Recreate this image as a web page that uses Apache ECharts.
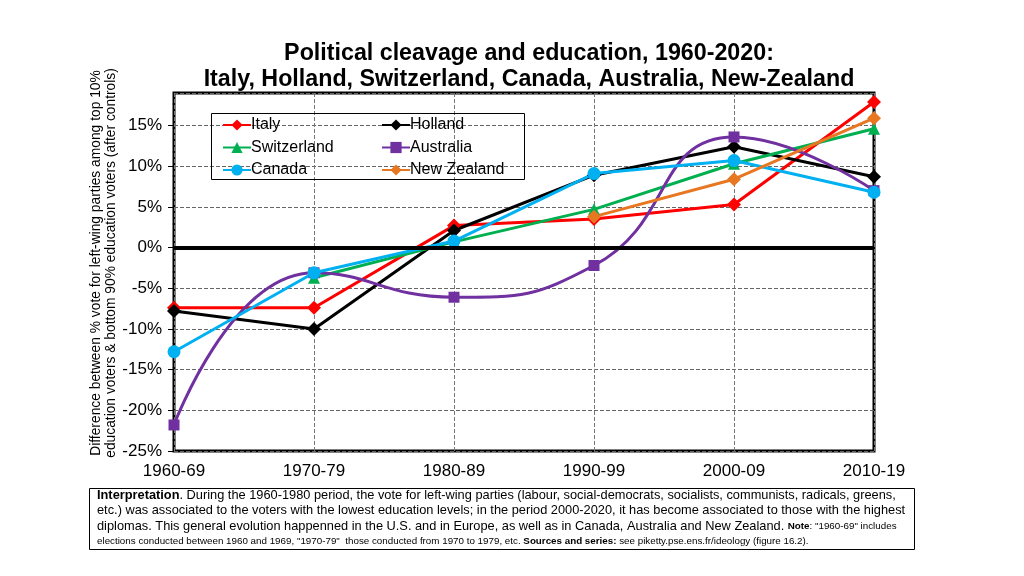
<!DOCTYPE html>
<html><head><meta charset="utf-8">
<script src="https://cdn.jsdelivr.net/npm/echarts@6/dist/echarts.min.js"></script>
<style>html,body{margin:0;padding:0;background:#fff}#c{width:1024px;height:576px}</style>
</head><body><div id="c"></div>
<script>
var categories = ['1960-69','1970-79','1980-89','1990-99','2000-09','2010-19'];
var italy       = [-7.4, -7.4, 2.7, 3.5, 5.3, 17.9];
var holland     = [-7.8, -10.0, 2.1, 8.9, 12.4, 8.7];
var switzerland = [null, -3.7, 0.7, 4.7, 10.3, 14.6];
var australia   = [-21.8, -3.1, -6.1, -2.2, 13.6, 7.0];
var canada      = [-12.8, -3.1, 0.8, 9.1, 10.7, 6.8];
var newZealand  = [null, null, null, 3.8, 8.4, 15.9];
var yTicks = [-25, -20, -15, -10, -5, 0, 5, 10, 15];

var FONT = 'Liberation Sans, Arial, sans-serif';
var chart = echarts.init(document.getElementById('c'), null, {renderer:'canvas'});

function mk(name, data, color, symbol, size, smooth) {
  return {
    name: name, type: 'line', data: data, smooth: smooth || false,
    symbol: symbol, symbolSize: size, showSymbol: true,
    lineStyle: {color: color, width: 3}, itemStyle: {color: color},
    connectNulls: false, z: 3
  };
}

var series = [
  mk('Italy', italy, '#FF0000', 'diamond', 14),
  mk('Holland', holland, '#000000', 'diamond', 14),
  mk('Switzerland', switzerland, '#00B050', 'triangle', 12),
  mk('Australia', australia, '#7030A0', 'rect', 11, 0.5),
  mk('Canada', canada, '#00B0F0', 'circle', 13),
  mk('New Zealand', newZealand, '#E87722', 'diamond', 14)
];
series[0].markLine = {
  silent: true, symbol: 'none', label: {show: false},
  lineStyle: {color: '#000', width: 4, type: 'solid'},
  data: [{yAxis: 0}]
};

var NF = 'Liberation Sans Narrow, Arial Narrow, ' + FONT;
var legendText = {fontSize: 16, color: '#000', fontFamily: FONT, padding: [0,0,0,-5]};

chart.setOption({
  animation: false,
  backgroundColor: '#fff',
  textStyle: {fontFamily: FONT},
  title: {
    text: 'Political cleavage and education, 1960-2020:\nItaly, Holland, Switzerland, Canada, Australia, New-Zealand',
    left: 524, top: 36, textAlign: 'center',
    textStyle: {fontSize: 23.25, fontWeight: 'bold', color: '#000', lineHeight: 26, fontFamily: FONT}
  },
  legend: [
    {orient: 'vertical', left: 217, top: 112, itemGap: 6.5, itemWidth: 28, itemHeight: 14,
     data: ['Italy', 'Switzerland', 'Canada'], textStyle: legendText},
    {orient: 'vertical', left: 376, top: 112, itemGap: 6.5, itemWidth: 28, itemHeight: 14,
     data: ['Holland', 'Australia', 'New Zealand'], textStyle: legendText}
  ],
  grid: {left: 174, right: 150, top: 93, bottom: 125, show: true, borderColor: '#000', borderWidth: 3, containLabel: false},
  xAxis: {
    type: 'category', data: categories, boundaryGap: false,
    axisLine: {show: false}, axisTick: {show: false},
    axisLabel: {fontSize: 17, color: '#000', margin: 12, fontFamily: FONT},
    splitLine: {show: true, lineStyle: {color: '#777', type: [4, 2], width: 1}}
  },
  yAxis: {
    type: 'value', min: -25, max: 19, interval: 5,
    axisLine: {show: false},
    axisTick: {show: true, length: 6, lineStyle: {color: '#000'}},
    axisLabel: {fontSize: 17, color: '#000', margin: 12, fontFamily: FONT, showMaxLabel: false,
      formatter: function(v){ return yTicks.indexOf(v) >= 0 ? v + '%' : ''; }},
    splitLine: {show: true, lineStyle: {color: '#666', type: [4, 2], width: 1}}
  },
  series: series,
  graphic: [
    {type: 'rect', left: 211, top: 113, shape: {width: 313, height: 66},
     style: {fill: 'rgba(0,0,0,0)', stroke: '#000', lineWidth: 1}, z: 10, silent: true},
    {type: 'text', x: 88, y: 263, rotation: Math.PI/2, z: 10,
     style: {text: 'Difference between % vote for left-wing parties among top 10%\neducation voters & bottom 90% education voters (after controls)',
       fill: '#000', font: '13.8px ' + FONT, align: 'center', verticalAlign: 'top', lineHeight: 15.5}},
    {type: 'rect', left: 89, top: 488, shape: {width: 825, height: 61},
     style: {fill: '#fff', stroke: '#000', lineWidth: 1}, z: 10},
    {type: 'text', left: 97, top: 489, z: 11,
     style: {
       text: '{b|Interpretation}{n|. During the 1960-1980 period, the vote for left-wing parties (labour, social-democrats, socialists, communists, radicals, greens,}\n' +
             '{n|etc.) was associated to the voters with the lowest education levels; in the period 2000-2020, it has become associated to those with the highest}\n' +
             '{n|diplomas. This general evolution happenned in the U.S. and in Europe, as well as in Canada, Australia and New Zealand. }{sb|Note}{s|: "1960-69" includes}\n' +
             '{s|elections conducted between 1960 and 1969, "1970-79"  those conducted from 1970 to 1979, etc. }{sb|Sources and series:}{s| see piketty.pse.ens.fr/ideology (figure 16.2).}',
       rich: {
         n: {fontSize: 12.8, fontFamily: NF, fill: '#000', lineHeight: 15.3},
         b: {fontSize: 12.8, fontFamily: NF, fontWeight: 'bold', fill: '#000', lineHeight: 15.3},
         s: {fontSize: 9.8, fontFamily: NF, fill: '#000', lineHeight: 15.3},
         sb: {fontSize: 9.8, fontFamily: NF, fontWeight: 'bold', fill: '#000', lineHeight: 15.3}
       }
     }}
  ]
});
</script></body></html>
